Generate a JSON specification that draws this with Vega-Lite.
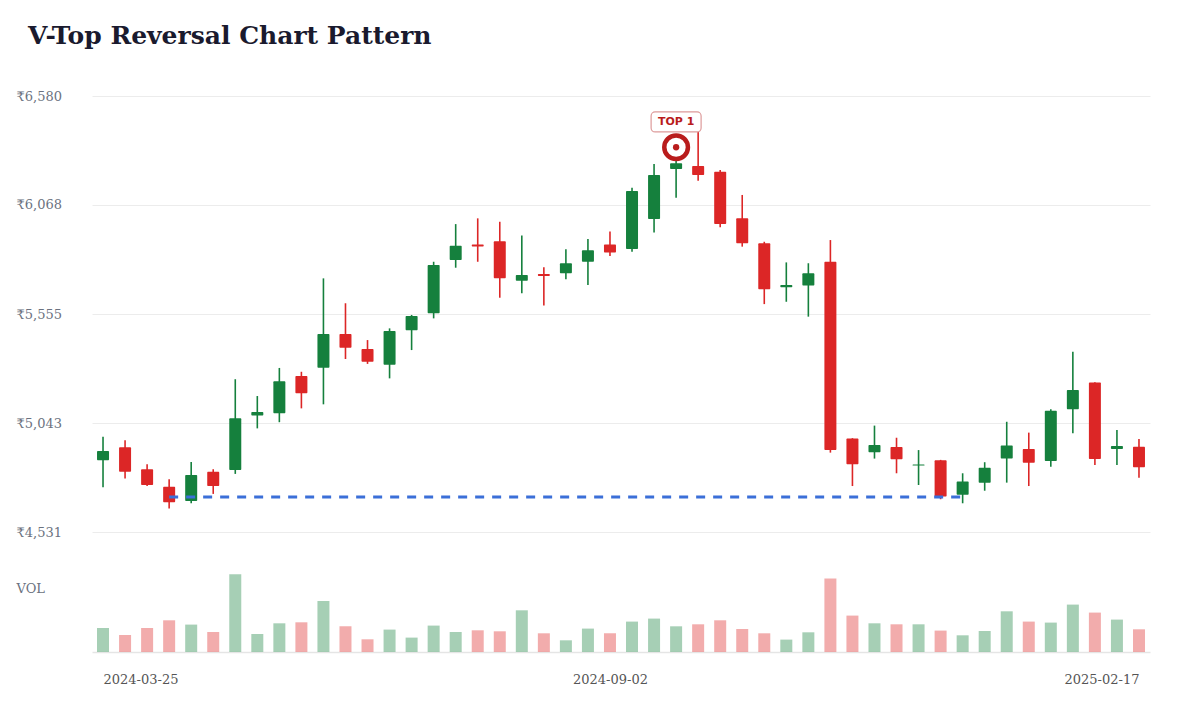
{
  "$schema": "https://vega.github.io/schema/vega-lite/v6.json",
  "background": "white",
  "padding": {"top": 24, "left": 16, "right": 40, "bottom": 20},
  "bounds": "flush",
  "spacing": 30,
  "title": {"text": "V-Top Reversal Chart Pattern", "anchor": "start", "font": "DejaVu Serif", "fontSize": 25, "fontWeight": "bold", "color": "#1a1a2e", "offset": 41, "dx": 12},
  "config": {"view": {"stroke": null}, "font": "DejaVu Serif"},
  "datasets": {
    "candles": [
      {"date": "2024-03-25", "open": 4868, "high": 4979, "low": 4741, "close": 4912, "volume": 240000},
      {"date": "2024-04-01", "open": 4929, "high": 4962, "low": 4783, "close": 4814, "volume": 170000},
      {"date": "2024-04-08", "open": 4826, "high": 4849, "low": 4747, "close": 4752, "volume": 240000},
      {"date": "2024-04-15", "open": 4744, "high": 4779, "low": 4642, "close": 4671, "volume": 317000},
      {"date": "2024-04-22", "open": 4677, "high": 4860, "low": 4666, "close": 4799, "volume": 274000},
      {"date": "2024-04-29", "open": 4814, "high": 4826, "low": 4710, "close": 4747, "volume": 200000},
      {"date": "2024-05-06", "open": 4822, "high": 5249, "low": 4804, "close": 5065, "volume": 777000},
      {"date": "2024-05-13", "open": 5078, "high": 5170, "low": 5018, "close": 5095, "volume": 180000},
      {"date": "2024-05-20", "open": 5089, "high": 5302, "low": 5047, "close": 5239, "volume": 287000},
      {"date": "2024-05-27", "open": 5264, "high": 5284, "low": 5112, "close": 5183, "volume": 297000},
      {"date": "2024-06-03", "open": 5303, "high": 5723, "low": 5131, "close": 5461, "volume": 510000},
      {"date": "2024-06-10", "open": 5461, "high": 5606, "low": 5344, "close": 5397, "volume": 257000},
      {"date": "2024-06-17", "open": 5391, "high": 5433, "low": 5321, "close": 5331, "volume": 127000},
      {"date": "2024-06-24", "open": 5317, "high": 5488, "low": 5253, "close": 5476, "volume": 224000},
      {"date": "2024-07-01", "open": 5479, "high": 5551, "low": 5386, "close": 5546, "volume": 144000},
      {"date": "2024-07-08", "open": 5559, "high": 5801, "low": 5535, "close": 5786, "volume": 264000},
      {"date": "2024-07-15", "open": 5809, "high": 5978, "low": 5773, "close": 5876, "volume": 200000},
      {"date": "2024-07-22", "open": 5882, "high": 6005, "low": 5801, "close": 5873, "volume": 217000},
      {"date": "2024-07-29", "open": 5897, "high": 5989, "low": 5632, "close": 5723, "volume": 207000},
      {"date": "2024-08-05", "open": 5712, "high": 5925, "low": 5653, "close": 5739, "volume": 417000},
      {"date": "2024-08-12", "open": 5743, "high": 5775, "low": 5595, "close": 5734, "volume": 187000},
      {"date": "2024-08-19", "open": 5747, "high": 5860, "low": 5719, "close": 5794, "volume": 117000},
      {"date": "2024-08-26", "open": 5801, "high": 5908, "low": 5692, "close": 5855, "volume": 234000},
      {"date": "2024-09-02", "open": 5882, "high": 5943, "low": 5828, "close": 5845, "volume": 187000},
      {"date": "2024-09-09", "open": 5861, "high": 6149, "low": 5848, "close": 6134, "volume": 304000},
      {"date": "2024-09-16", "open": 6002, "high": 6260, "low": 5939, "close": 6209, "volume": 334000},
      {"date": "2024-09-23", "open": 6237, "high": 6289, "low": 6102, "close": 6264, "volume": 257000},
      {"date": "2024-09-30", "open": 6251, "high": 6434, "low": 6182, "close": 6209, "volume": 277000},
      {"date": "2024-10-07", "open": 6224, "high": 6232, "low": 5963, "close": 5978, "volume": 317000},
      {"date": "2024-10-14", "open": 6005, "high": 6115, "low": 5872, "close": 5888, "volume": 230000},
      {"date": "2024-10-21", "open": 5888, "high": 5895, "low": 5602, "close": 5672, "volume": 187000},
      {"date": "2024-10-28", "open": 5681, "high": 5798, "low": 5613, "close": 5692, "volume": 124000},
      {"date": "2024-11-04", "open": 5689, "high": 5794, "low": 5543, "close": 5747, "volume": 197000},
      {"date": "2024-11-11", "open": 5801, "high": 5903, "low": 4904, "close": 4916, "volume": 734000},
      {"date": "2024-11-18", "open": 4970, "high": 4972, "low": 4747, "close": 4849, "volume": 364000},
      {"date": "2024-11-25", "open": 4906, "high": 5031, "low": 4876, "close": 4940, "volume": 287000},
      {"date": "2024-12-02", "open": 4931, "high": 4974, "low": 4807, "close": 4873, "volume": 277000},
      {"date": "2024-12-09", "open": 4843, "high": 4916, "low": 4752, "close": 4848, "volume": 277000},
      {"date": "2024-12-16", "open": 4868, "high": 4870, "low": 4685, "close": 4698, "volume": 214000},
      {"date": "2024-12-23", "open": 4706, "high": 4807, "low": 4666, "close": 4768, "volume": 167000},
      {"date": "2024-12-30", "open": 4763, "high": 4859, "low": 4725, "close": 4833, "volume": 210000},
      {"date": "2025-01-06", "open": 4877, "high": 5049, "low": 4763, "close": 4937, "volume": 407000},
      {"date": "2025-01-13", "open": 4921, "high": 4998, "low": 4747, "close": 4857, "volume": 304000},
      {"date": "2025-01-20", "open": 4865, "high": 5108, "low": 4838, "close": 5101, "volume": 294000},
      {"date": "2025-01-27", "open": 5108, "high": 5378, "low": 4995, "close": 5198, "volume": 474000},
      {"date": "2025-02-03", "open": 5233, "high": 5235, "low": 4846, "close": 4874, "volume": 394000},
      {"date": "2025-02-10", "open": 4921, "high": 5010, "low": 4846, "close": 4935, "volume": 324000},
      {"date": "2025-02-17", "open": 4932, "high": 4968, "low": 4786, "close": 4835, "volume": 227000}
    ],
    "support": [
      {"start": "2024-04-15", "end": "2024-12-23", "level": 4695}
    ],
    "marker": [
      {"date": "2024-09-23", "price": 6339, "label_price": 6458, "label": "TOP 1"}
    ]
  },
  "vconcat": [
    {
      "width": 1058,
      "height": 436,
      "layer": [
        {
          "data": {"name": "candles"},
          "mark": {"type": "rule", "strokeWidth": 1.6},
          "encoding": {
            "x": {"field": "date", "type": "temporal", "axis": null,
                  "scale": {"type": "utc", "padding": 0, "nice": false, "domain": [{"year": 2024, "month": 3, "date": 21, "hours": 12, "utc": true}, {"year": 2025, "month": 2, "date": 20, "hours": 12, "utc": true}]}},
            "y": {"field": "low", "type": "quantitative",
                  "scale": {"domain": [4531, 6580], "nice": false, "zero": false},
                  "axis": {"title": null, "values": [4531, 5043, 5555, 6068, 6580], "labelExpr": "'₹' + format(datum.value, ',')",
                           "labelAlign": "left", "labelPadding": 76, "labelBaseline": "middle", "labelFont": "DejaVu Serif", "labelFontSize": 13, "labelColor": "#6b7280",
                           "domain": false, "ticks": false, "grid": true, "gridColor": "#ececec", "gridWidth": 1}},
            "y2": {"field": "high"},
            "color": {"condition": {"test": "datum.close >= datum.open", "value": "#15803d"}, "value": "#dc2626"}
          }
        },
        {
          "data": {"name": "candles"},
          "mark": {"type": "bar", "size": 12, "cornerRadius": 1},
          "encoding": {
            "x": {"field": "date", "type": "temporal"},
            "y": {"field": "open", "type": "quantitative"},
            "y2": {"field": "close"},
            "color": {"condition": {"test": "datum.close >= datum.open", "value": "#15803d"}, "value": "#dc2626"}
          }
        },
        {
          "data": {"name": "support"},
          "mark": {"type": "rule", "strokeDash": [9, 8], "strokeWidth": 3, "color": "#3b6fd8"},
          "encoding": {
            "x": {"field": "start", "type": "temporal"},
            "x2": {"field": "end"},
            "y": {"field": "level", "type": "quantitative"}
          }
        },
        {
          "data": {"name": "marker"},
          "mark": {"type": "point", "shape": "M-0.84,-0.4L0.84,-0.4A0.16,0.16,0,0,1,1,-0.24L1,0.24A0.16,0.16,0,0,1,0.84,0.4L-0.84,0.4A0.16,0.16,0,0,1,-1,0.24L-1,-0.24A0.16,0.16,0,0,1,-0.84,-0.4Z",
                   "size": 2500, "filled": true, "fill": "white", "stroke": "#dd9a9a", "strokeWidth": 1.2, "opacity": 1},
          "encoding": {
            "x": {"field": "date", "type": "temporal"},
            "y": {"field": "label_price", "type": "quantitative"}
          }
        },
        {
          "data": {"name": "marker"},
          "mark": {"type": "text", "font": "DejaVu Sans", "fontWeight": "bold", "fontSize": 11, "color": "#b91c1c", "align": "center", "baseline": "middle"},
          "encoding": {
            "x": {"field": "date", "type": "temporal"},
            "y": {"field": "label_price", "type": "quantitative"},
            "text": {"field": "label"}
          }
        },
        {
          "data": {"name": "marker"},
          "mark": {"type": "point", "shape": "circle", "size": 560, "filled": true, "fill": "white", "stroke": "#b91c1c", "strokeWidth": 4.5, "opacity": 1},
          "encoding": {
            "x": {"field": "date", "type": "temporal"},
            "y": {"field": "price", "type": "quantitative"}
          }
        },
        {
          "data": {"name": "marker"},
          "mark": {"type": "point", "shape": "circle", "size": 40, "filled": true, "fill": "#b91c1c", "opacity": 1},
          "encoding": {
            "x": {"field": "date", "type": "temporal"},
            "y": {"field": "price", "type": "quantitative"}
          }
        }
      ]
    },
    {
      "width": 1058,
      "height": 90,
      "data": {"name": "candles"},
      "mark": {"type": "bar", "size": 12, "opacity": 0.38},
      "encoding": {
        "x": {"field": "date", "type": "temporal",
              "scale": {"type": "utc", "padding": 0, "nice": false, "domain": [{"year": 2024, "month": 3, "date": 21, "hours": 12, "utc": true}, {"year": 2025, "month": 2, "date": 20, "hours": 12, "utc": true}]},
              "axis": {"title": null, "values": [{"year": 2024, "month": 3, "date": 25, "utc": true}, {"year": 2024, "month": 9, "date": 2, "utc": true}, {"year": 2025, "month": 2, "date": 17, "utc": true}],
                       "labelExpr": "utcFormat(datum.value, '%Y-%m-%d')", "labelFlush": 15, "labelOverlap": false,
                       "labelFont": "DejaVu Serif", "labelFontSize": 13, "labelColor": "#555555", "labelBaseline": "middle", "labelPadding": 27,
                       "ticks": false, "grid": false, "domain": true, "domainColor": "#e5e5e5", "domainWidth": 1.5}},
        "y": {"field": "volume", "type": "quantitative",
              "scale": {"domain": [0, 900000], "nice": false},
              "axis": {"title": "VOL", "titleAngle": 0, "titleX": -76, "titleY": 26, "titleAlign": "left", "titleBaseline": "middle",
                       "titleFont": "DejaVu Serif", "titleFontWeight": "normal", "titleFontSize": 13, "titleColor": "#6b7280",
                       "labels": false, "ticks": false, "domain": false, "grid": false}},
        "color": {"condition": {"test": "datum.close >= datum.open", "value": "#15803d"}, "value": "#dc2626"}
      }
    }
  ]
}
